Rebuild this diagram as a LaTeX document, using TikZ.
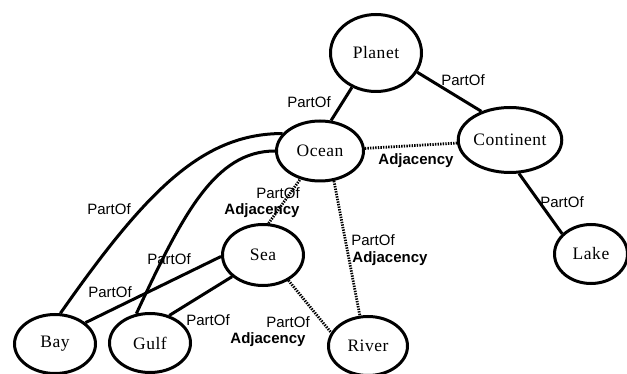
\documentclass[tikz,border=0pt]{standalone}
\usepackage{fontspec}
\usepackage{tikz}
\usetikzlibrary{shapes.geometric,calc}
\newfontfamily\conceptfont[LetterSpace=3]{Liberation Serif}
\newfontfamily\relfont{Liberation Sans}
\begin{document}
\begin{tikzpicture}[x=1pt, y=-1pt, semithick,
    concept/.style={ellipse,draw=black,line width=3pt,inner sep=0pt,text=black,
      font=\conceptfont\fontsize{17.5}{20}\selectfont},
    partof/.style={font=\relfont\fontsize{15}{18}\selectfont,inner sep=0pt},
    adjacency/.style={font=\relfont\bfseries\fontsize{15}{18}\selectfont,inner sep=0pt},
    solidlink/.style={line width=3pt},
    dottedlink/.style={line width=2.8pt,dash pattern=on 1.4pt off 1.2pt}]
  \useasboundingbox[fill=white] (0,0) rectangle (627,374);
  \node[concept,minimum width=91pt,minimum height=77pt] at (376,53) (planet) {Planet};
  \node[concept,minimum width=87pt,minimum height=60pt] at (320,151) (ocean) {Ocean};
  \node[concept,minimum width=91pt,minimum height=65pt] at (510,140) (continent) {Continent};
  \node[concept,minimum width=73pt,minimum height=59pt] at (591,254) (lake) {Lake};
  \node[concept,minimum width=81pt,minimum height=61pt] at (263,255) (sea) {Sea};
  \node[concept,minimum width=81pt,minimum height=59pt] at (55,344) (bay) {Bay};
  \node[concept,minimum width=81pt,minimum height=59pt] at (150,343) (gulf) {Gulf};
  \node[concept,minimum width=79pt,minimum height=59pt] at (368,346) (river) {River};
  \draw[solidlink] (planet.235) -- (ocean.70);
  \draw[solidlink] (planet.335) -- (continent.135);
  \draw[solidlink] (continent.285) -- (lake.145);
  \draw[dottedlink] (ocean) -- (continent);
  \draw[solidlink] (bay.80) to[out=55,in=180,out distance=150pt,in distance=80pt] (ocean.155);
  \draw[solidlink] (gulf.115) to[out=65,in=180,out distance=110pt,in distance=60pt] (ocean.180);
  \draw[solidlink] (bay.35) -- (sea.182);
  \draw[solidlink] (gulf.55) -- (sea.215);
  \draw[dottedlink] (sea.80) -- (ocean.235);
  \draw[dottedlink] (ocean.295) -- (river.105);
  \draw[dottedlink] (sea.315) -- (river.160);
  \node[partof] at (309,102) (l1) {PartOf};
  \node[partof] at (463,80) (l2) {PartOf};
  \node[adjacency] at (416,161) (l3) {Adjacency};
  \node[partof] at (562,202) (l4) {PartOf};
  \node[partof] at (109,209) (l5) {PartOf};
  \node[partof] at (278,193) (l6) {PartOf};
  \node[adjacency] at (262,211) (l7) {Adjacency};
  \node[partof] at (169,259) (l8) {PartOf};
  \node[partof] at (110,292) (l9) {PartOf};
  \node[partof] at (208,320) (l10) {PartOf};
  \node[partof] at (288,322) (l11) {PartOf};
  \node[adjacency] at (268,340) (l12) {Adjacency};
  \node[partof] at (373,240) (l13) {PartOf};
  \node[adjacency] at (390,259) (l14) {Adjacency};
\end{tikzpicture}
\end{document}
